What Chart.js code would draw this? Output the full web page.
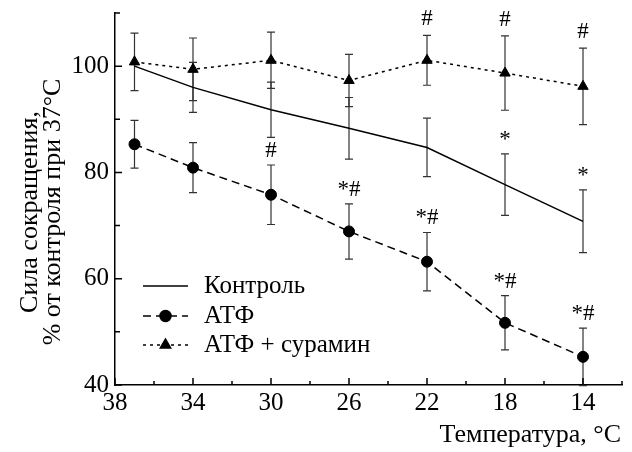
<!DOCTYPE html>
<html><head><meta charset="utf-8">
<script src="https://cdn.jsdelivr.net/npm/chart.js@4.4.0/dist/chart.umd.min.js"></script>
<style>html,body{margin:0;padding:0;background:#fff;}#wrap{width:632px;height:452px;position:relative;}</style>
</head><body><div id="wrap"><canvas id="c"></canvas></div>
<script>
// ---- data ----
const temps = [37, 34, 30, 26, 22, 18, 14];
const control = [100, 96.0, 91.8, 88.3, 84.7, 77.7, 70.8];
const controlErr = [0, 4.7, 5.2, 5.8, 5.5, 5.8, 5.9];
const atp = [85.3, 80.9, 75.8, 68.9, 63.2, 51.7, 45.3];
const atpErr = [4.5, 4.7, 5.6, 5.2, 5.5, 5.1, 5.4];
const atpSur = [100.8, 99.4, 101.1, 97.3, 101.1, 98.7, 96.2];
const atpSurErr = [5.4, 5.9, 5.3, 4.9, 4.7, 7.0, 7.2];
const controlMarks = ["", "", "", "", "", "*", "*"];
const atpMarks = ["", "", "#", "*#", "*#", "*#", "*#"];
const atpSurMarks = ["", "", "", "", "#", "#", "#"];
const seriesNames = ["Контроль", "АТФ", "АТФ + сурамин"];
const yTickValues = [40, 50, 60, 70, 80, 90, 100, 110];
const yTickLabels = ["40", "", "60", "", "80", "", "100", ""];
const xTickValues = [38, 36, 34, 32, 30, 28, 26, 24, 22, 20, 18, 16, 14, 12];
const xTickLabels = ["38", "", "34", "", "30", "", "26", "", "22", "", "18", "", "14", ""];
const yTitle = ["Сила сокращения,", "% от контроля при 37°C"];
const xTitle = "Температура, °C";

const FONT = "'Liberation Serif', 'Times New Roman', serif";
const toXY = (vals) => temps.map((t, i) => ({x: t, y: vals[i]}));

const datasets = [
  {label: seriesNames[0], data: toXY(control), err: controlErr, marks: controlMarks, markGap: 8,
   borderColor: '#000', borderWidth: 1.5, pointRadius: 0, pointStyle: false, borderDash: []},
  {label: seriesNames[1], data: toXY(atp), err: atpErr, marks: atpMarks, markGap: 8,
   borderColor: '#000', borderWidth: 1.5, borderDash: [8, 5], pointStyle: 'circle', pointRadius: 5.5,
   pointBackgroundColor: '#000', pointBorderColor: '#000', pointBorderWidth: 1},
  {label: seriesNames[2], data: toXY(atpSur), err: atpSurErr, marks: atpSurMarks, markGap: 10,
   borderColor: '#000', borderWidth: 1.5, borderDash: [3, 4], pointStyle: 'triangle', pointRadius: 6,
   pointBackgroundColor: '#000', pointBorderColor: '#000', pointBorderWidth: 1}
];

const errorBars = {
  id: 'errorBars',
  beforeDatasetsDraw(chart) {
    const {ctx, scales: {x, y}} = chart;
    ctx.save();
    ctx.strokeStyle = '#333';
    ctx.lineWidth = 1.2;
    chart.data.datasets.forEach(ds => {
      ds.data.forEach((p, i) => {
        const e = ds.err[i];
        if (!e) return;
        const px = x.getPixelForValue(p.x);
        const top = y.getPixelForValue(p.y + e);
        const bot = y.getPixelForValue(p.y - e);
        ctx.beginPath();
        ctx.moveTo(px, top); ctx.lineTo(px, bot);
        ctx.moveTo(px - 4, top); ctx.lineTo(px + 4, top);
        ctx.moveTo(px - 4, bot); ctx.lineTo(px + 4, bot);
        ctx.stroke();
      });
    });
    ctx.restore();
  }
};

const marksPlugin = {
  id: 'marks',
  afterDatasetsDraw(chart) {
    const {ctx, scales: {x, y}} = chart;
    ctx.save();
    ctx.fillStyle = '#000';
    ctx.font = '23px ' + FONT;
    ctx.textAlign = 'center';
    ctx.textBaseline = 'alphabetic';
    chart.data.datasets.forEach(ds => {
      ds.data.forEach((p, i) => {
        const m = ds.marks[i];
        if (!m) return;
        const px = x.getPixelForValue(p.x);
        const top = y.getPixelForValue(p.y + ds.err[i]);
        ctx.fillText(m, px, top - ds.markGap);
      });
    });
    ctx.restore();
  }
};

const inTicks = {
  id: 'inTicks',
  afterDraw(chart) {
    const {ctx, scales: {x, y}} = chart;
    const ax = chart.chartArea.left, ay = chart.chartArea.bottom;
    ctx.save();
    ctx.strokeStyle = '#000';
    ctx.lineWidth = 1.5;
    ctx.beginPath();
    yTickValues.forEach((v, i) => {
      const py = y.getPixelForValue(v);
      const len = yTickLabels[i] ? 7 : 5;
      ctx.moveTo(ax, py); ctx.lineTo(ax + len, py);
    });
    xTickValues.forEach((v, i) => {
      const px = x.getPixelForValue(v);
      const len = xTickLabels[i] ? 7 : 4;
      ctx.moveTo(px, ay); ctx.lineTo(px, ay - len);
    });
    ctx.stroke();
    ctx.restore();
  }
};

const titlesPlugin = {
  id: 'axisTitles',
  afterDraw(chart) {
    const {ctx, chartArea} = chart;
    const cy = (chartArea.top + chartArea.bottom) / 2 + 13;
    ctx.save();
    ctx.fillStyle = '#000';
    ctx.font = '26px ' + FONT;
    ctx.textAlign = 'center';
    ctx.textBaseline = 'alphabetic';
    ctx.translate(0, cy);
    ctx.rotate(-Math.PI / 2);
    ctx.fillText(yTitle[0], 0, 37);
    ctx.fillText(yTitle[1], 0, 60);
    ctx.restore();
    ctx.save();
    ctx.fillStyle = '#000';
    ctx.font = '26px ' + FONT;
    ctx.textAlign = 'right';
    ctx.textBaseline = 'alphabetic';
    ctx.fillText(xTitle, chartArea.right - 1, chartArea.bottom + 57);
    ctx.restore();
  }
};

const legendPlugin = {
  id: 'customLegend',
  afterDraw(chart) {
    const {ctx, chartArea} = chart;
    const x0 = chartArea.left + 28, x1 = chartArea.left + 73, tx = chartArea.left + 89;
    const rows = [chartArea.top + 273, chartArea.top + 303, chartArea.top + 332];
    ctx.save();
    chart.data.datasets.forEach((ds, i) => {
      const ry = rows[i];
      ctx.strokeStyle = ds.borderColor;
      ctx.lineWidth = ds.borderWidth;
      ctx.setLineDash(ds.borderDash || []);
      ctx.beginPath(); ctx.moveTo(x0, ry); ctx.lineTo(x1, ry); ctx.stroke();
      ctx.setLineDash([]);
      if (ds.pointStyle) {
        Chart.helpers.drawPoint(ctx, {pointStyle: ds.pointStyle, radius: ds.pointRadius, borderWidth: 1,
          rotation: 0}, (x0 + x1) / 2, ry);
        ctx.fillStyle = '#000';
        ctx.fill();
      }
      ctx.fillStyle = '#000';
      ctx.font = '25px ' + FONT;
      ctx.textAlign = 'left';
      ctx.textBaseline = 'middle';
      ctx.fillText(ds.label, tx, ry);
    });
    ctx.restore();
  }
};

new Chart(document.getElementById('c'), {
  type: 'line',
  data: {datasets},
  options: {
    responsive: true,
    maintainAspectRatio: false,
    animation: false,
    layout: {padding: {top: 13, right: 10, left: 0, bottom: 0}},
    plugins: {legend: {display: false}, tooltip: {enabled: false}},
    scales: {
      x: {
        type: 'linear', reverse: true, min: 12, max: 38,
        afterFit: s => { s.height = 67; s.paddingLeft = 0; s.paddingRight = 0; },
        grid: {display: true, drawOnChartArea: false, drawTicks: false},
        border: {display: true, color: '#000', width: 1.5},
        ticks: {
          stepSize: 2, padding: 3, color: '#000', font: {family: FONT, size: 25},
          maxRotation: 0, autoSkip: false,
          callback: v => { const i = xTickValues.indexOf(v); return (i >= 0 && xTickLabels[i]) ? xTickLabels[i] : null; }
        }
      },
      y: {
        min: 40, max: 110,
        afterFit: s => { s.width = 115; s.paddingTop = 0; s.paddingBottom = 0; },
        grid: {display: true, drawOnChartArea: false, drawTicks: false},
        border: {display: true, color: '#000', width: 1.5},
        ticks: {
          stepSize: 10, padding: 6, color: '#000', font: {family: FONT, size: 25},
          callback: v => { const i = yTickValues.indexOf(v); return (i >= 0 && yTickLabels[i]) ? yTickLabels[i] : null; }
        }
      }
    }
  },
  plugins: [errorBars, marksPlugin, inTicks, titlesPlugin, legendPlugin]
});
</script>
</body></html>
